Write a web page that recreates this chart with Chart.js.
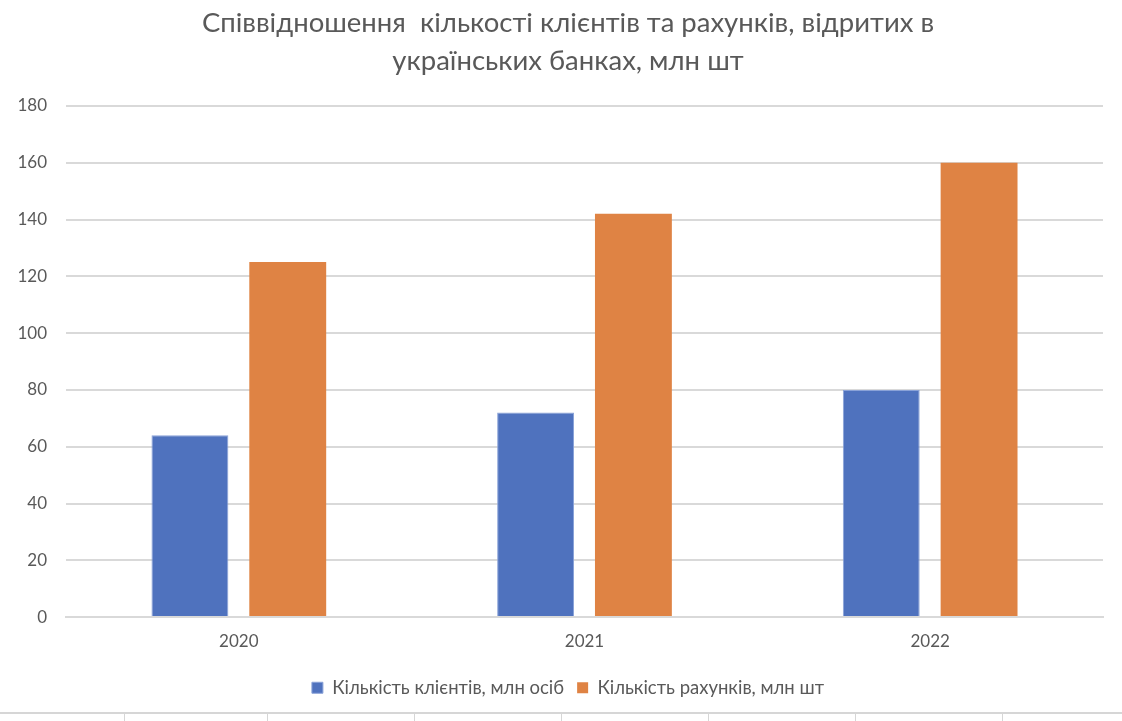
<!DOCTYPE html>
<html>
<head>
<meta charset="utf-8">
<script src="https://cdn.jsdelivr.net/npm/chart.js@4"></script>
<style>
  html, body { margin: 0; padding: 0; background: #fff; }
  #wrap { position: relative; width: 1122px; height: 712px; }
  #sheet { position: relative; width: 1122px; height: 9px; border-top: 2px solid #d6d6d6; display: flex; }
  #sheet div { border-right: 1px solid #d6d6d6; height: 9px; }
</style>
</head>
<body>
<div id="wrap"><canvas id="c" width="1122" height="712"></canvas></div>
<div id="sheet">
  <div style="width:124px"></div><div style="width:142px"></div><div style="width:146px"></div><div style="width:146px"></div><div style="width:146px"></div><div style="width:146px"></div><div style="width:146px"></div>
</div>
<script>
const categories = ["2020", "2021", "2022"];
const clients = [64, 72, 80];
const accounts = [125, 142, 160];
const seriesNames = ["Кількість клієнтів, млн осіб", "Кількість рахунків, млн шт"];
const titleLines = ["Співвідношення  кількості клієнтів та рахунків, відритих в", "українських банках, млн шт"];
const yTicks = [0, 20, 40, 60, 80, 100, 120, 140, 160, 180];

const FONT = "Lato, 'Open Sans', sans-serif";
const GRAY = "#595959";

new Chart(document.getElementById("c"), {
  type: "bar",
  data: {
    labels: categories,
    datasets: [
      { label: seriesNames[0], data: clients, backgroundColor: "#4f72be", borderColor: "#8aa2d8", borderWidth: 1 },
      { label: seriesNames[1], data: accounts, backgroundColor: "#df8344", borderWidth: 0 }
    ]
  },
  options: {
    responsive: false,
    animation: false,
    layout: { padding: { left: 14, right: 0, top: 4, bottom: 5 } },
    datasets: { bar: { categoryPercentage: 0.566, barPercentage: 0.786 } },
    plugins: {
      title: {
        display: true,
        text: titleLines,
        color: GRAY,
        font: { family: FONT, size: 27.5, weight: "normal", lineHeight: 1.38 },
        padding: { top: 0, bottom: 26 }
      },
      legend: {
        position: "bottom",
        labels: {
          color: GRAY,
          font: { family: FONT, size: 18.5 },
          boxWidth: 11,
          boxHeight: 11,
          padding: 13,
          useBorderRadius: false
        }
      },
      tooltip: { enabled: false }
    },
    scales: {
      x: {
        grid: { display: false, drawTicks: false },
        border: { display: true, color: "#d9d9d9", width: 2 },
        ticks: { color: GRAY, font: { family: FONT, size: 17 }, padding: 14 }
      },
      y: {
        min: 0, max: 180,
        afterBuildTicks: (axis) => { axis.ticks = yTicks.map(v => ({ value: v })); },
        afterFit: (axis) => { axis.width = 52; },
        grid: { color: "#d9d9d9", lineWidth: 2, drawTicks: false },
        border: { display: false },
        ticks: { color: GRAY, font: { family: FONT, size: 17 }, padding: 19 }
      },
      yRight: {
        position: "right",
        display: true,
        min: 0, max: 180,
        afterFit: (axis) => { axis.width = 19; },
        grid: { display: false, drawTicks: false },
        border: { display: false },
        ticks: { display: false }
      }
    }
  }
});
</script>
</body>
</html>
